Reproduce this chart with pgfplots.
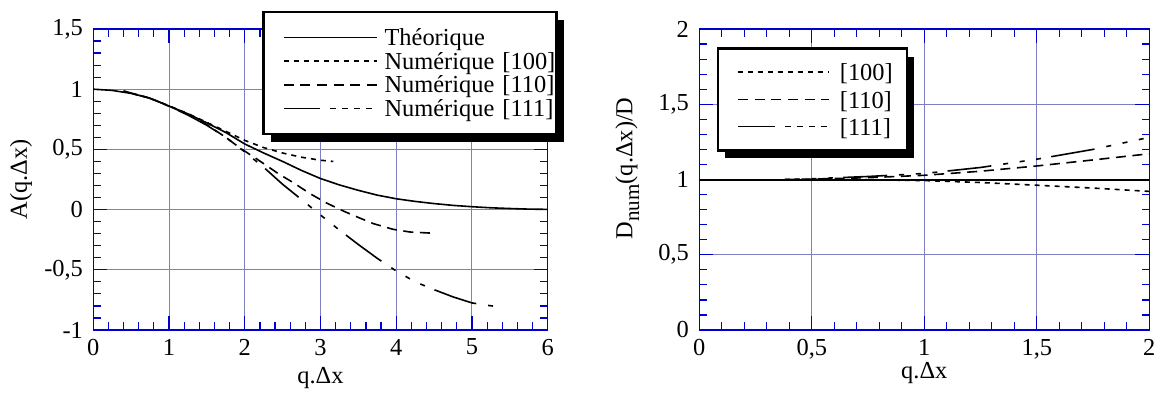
\documentclass[border=0pt]{standalone}
\usepackage{fontspec}
\setmainfont{Liberation Serif}
\usepackage{pgfplots}
\pgfplotsset{compat=1.18}
\usetikzlibrary{shadows}
\definecolor{framecol}{RGB}{0,0,205}
\definecolor{gridcol}{RGB}{128,128,192}
\newcommand{\fs}{\rmfamily\fontsize{12.2}{14}\selectfont}
\makeatletter
\tikzset{no preactions/.code={\let\tikz@preactions\pgfutil@empty}}
\makeatother
\pgfplotsset{
  mystyle/.style={
    scale only axis,
    axis line style={framecol, line width=0.6pt},
    every tick/.style={framecol, line width=0.6pt},
    major tick length=7pt, minor tick length=3.8pt,
    tick align=inside,
    xtick pos=both, ytick pos=both,
    grid=major,
    major grid style={gridcol, line width=0.5pt},
    tick label style={font=\fs, text=black},
    label style={font=\fs},
    yticklabel style={anchor=east, inner xsep=0pt, xshift=-5pt},
    xticklabel style={anchor=north, inner ysep=0pt, yshift=-4.3pt},
    legend style={font=\fs, draw=black, line width=1.3pt, fill=white,
      drop shadow={shadow xshift=3.5pt, shadow yshift=-4pt, fill=black, opacity=1},
      column sep=0pt, inner xsep=0pt},
  },
  p100/.style={black, line width=0.8pt, dash pattern=on 2.5pt off 2.5pt},
  p110/.style={black, line width=0.8pt, dash pattern=on 5pt off 3.3pt},
  p111/.style={black, line width=0.8pt, dash pattern=on 22pt off 6pt on 2.5pt off 5.8pt on 2.5pt off 5.8pt on 2.5pt off 5.2pt, dash phase=23.05pt},
  l111/.style={black, line width=0.8pt, dash pattern=on 18.3pt off 5pt on 3pt off 3pt on 3pt off 3pt on 3pt off 3pt on 3pt off 20pt},
}
\begin{document}
\begin{tikzpicture}
\begin{axis}[mystyle,
  at={(46.65pt,31pt)}, anchor=south west,
  width=227.2pt, height=150.5pt,
  xmin=0, xmax=6, ymin=-1, ymax=1.5,
  xtick={0,1,2,3,4,5,6}, xticklabels={0,1,2,3,4,5,6},
  ytick={-1,-0.5,0,0.5,1,1.5}, yticklabels={-1,{-0,5},0,{0,5},1,{1,5}},
  minor x tick num=4, minor y tick num=4,
  xlabel={q.Δx}, ylabel={A(q.Δx)},
  xlabel style={at={(axis description cs:0.5,-0.16)}, anchor=center},
  ylabel style={at={(axis description cs:-0.159,0.5)}, anchor=center},
  legend style={at={(0.3719,1.0608)}, anchor=north west, inner ysep=7.2pt, row sep=0.85pt,
    nodes={inner xsep=0pt, inner ysep=0pt},
    cells={anchor=west, inner xsep=0pt, inner ysep=0pt, text height=9.5pt, text depth=2.5pt, text width=86pt, align=left}},
  legend image code/.code={\path (-9.7pt,0pt); \draw[no preactions, #1] (0pt,0pt) -- (46.7pt,0pt); \path (50pt,0pt);},
]
\addplot[black, line width=0.8pt] coordinates {(0,1) (0.25,0.99) (0.5,0.965) (0.75,0.925) (1,0.86) (1.25,0.795) (1.5,0.72) (1.75,0.64) (2,0.545) (2.25,0.47) (2.5,0.40) (2.75,0.325) (3,0.258) (3.25,0.205) (3.5,0.16) (3.75,0.12) (4,0.09) (4.25,0.068) (4.5,0.05) (4.75,0.035) (5,0.024) (5.25,0.015) (5.5,0.009) (5.75,0.004) (6,0.002)};
\addlegendentry{Théorique}
\addplot[p100] coordinates {(0.4,0.985) (0.75,0.925) (1,0.862) (1.25,0.797) (1.5,0.724) (1.75,0.65) (2,0.575) (2.25,0.515) (2.5,0.47) (2.75,0.435) (3,0.41) (3.17,0.40)};
\addlegendentry{Numérique [100]}
\addplot[p110] coordinates {(0.4,0.985) (0.75,0.925) (1,0.86) (1.25,0.79) (1.5,0.705) (1.75,0.60) (1.94,0.51) (2.16,0.42) (2.44,0.30) (2.66,0.216) (2.86,0.133) (3.08,0.055) (3.26,0.0) (3.43,-0.047) (3.7,-0.117) (3.96,-0.164) (4.18,-0.186) (4.45,-0.195)};
\addlegendentry{Numérique [110]}
\addplot[p111, forget plot] coordinates {(0.4,0.985) (0.75,0.923) (1,0.858) (1.25,0.785) (1.5,0.70) (1.75,0.60) (2,0.48) (2.27,0.34) (2.5,0.21) (2.75,0.083) (3,-0.045) (3.25,-0.17) (3.5,-0.29) (3.75,-0.405) (4,-0.51) (4.25,-0.60) (4.5,-0.665) (4.75,-0.725) (5,-0.775) (5.2,-0.795) (5.4,-0.81)};
\addlegendimage{l111}
\addlegendentry{Numérique [111]}
\end{axis}
\begin{axis}[mystyle,
  at={(349.65pt,31pt)}, anchor=south west,
  width=225pt, height=150.5pt,
  xmin=0, xmax=2, ymin=0, ymax=2,
  xtick={0,0.5,1,1.5,2}, xticklabels={0,{0,5},1,{1,5},2},
  ytick={0,0.5,1,1.5,2}, yticklabels={0,{0,5},1,{1,5},2},
  minor x tick num=4, minor y tick num=4,
  xlabel={q.Δx}, ylabel={D\raisebox{-0.6ex}{\fontsize{10.5}{11}\selectfont num}(q.Δx)/D},
  xlabel style={at={(axis description cs:0.5,-0.142)}, anchor=center},
  ylabel style={at={(axis description cs:-0.16,0.537)}, anchor=center},
  legend style={at={(0.0387,0.9392)}, anchor=north west, inner ysep=6pt, row sep=2pt,
    nodes={inner xsep=0pt, inner ysep=0pt},
    cells={anchor=west, inner xsep=0pt, inner ysep=0pt, text height=10.1pt, text depth=3.15pt, text width=33.5pt, align=left}},
  legend image code/.code={\path (-9.65pt,0pt); \draw[no preactions, #1] (0pt,0pt) -- (45.65pt,0pt); \path (50.5pt,0pt);},
]
\addplot[black, line width=1pt, forget plot] coordinates {(0,1) (2,1)};
\addplot[p100] coordinates {(0.38,1.0) (0.5,1.0) (0.75,0.998) (1,0.993) (1.25,0.98) (1.5,0.962) (1.75,0.943) (2,0.921)};
\addlegendentry{[100]}
\addplot[p110] coordinates {(0.38,1.0) (0.5,1.003) (0.75,1.012) (1,1.028) (1.25,1.055) (1.5,1.09) (1.75,1.13) (2,1.171)};
\addlegendentry{[110]}
\addplot[p111, forget plot] coordinates {(0.38,1.0) (0.5,1.005) (0.75,1.02) (1,1.04) (1.25,1.08) (1.5,1.135) (1.75,1.2) (2,1.28)};
\addlegendimage{l111}
\addlegendentry{[111]}
\end{axis}
\pgfresetboundingbox
\path[use as bounding box] (0,0) rectangle (581.5pt,196pt);
\end{tikzpicture}
\end{document}
